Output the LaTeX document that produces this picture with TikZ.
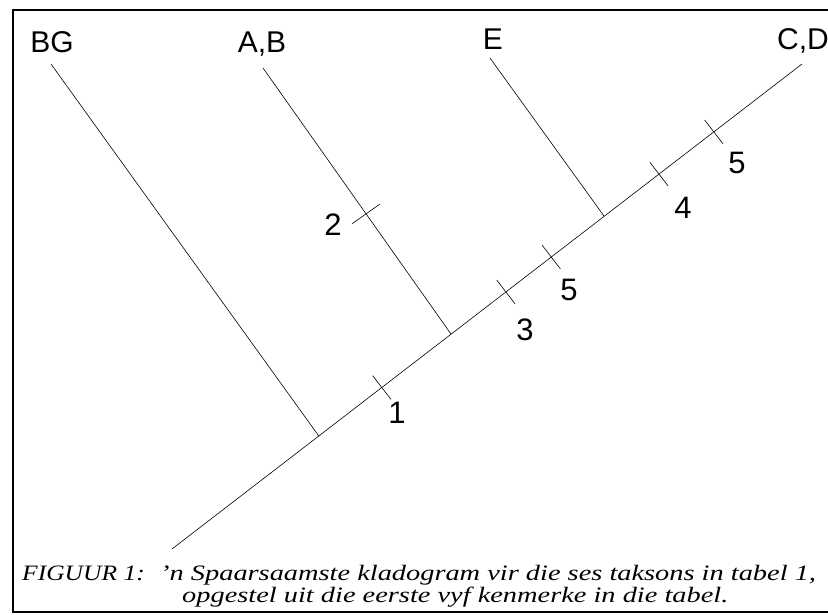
\documentclass[tikz,border=0pt]{standalone}
\usepackage{fontspec}
\setmainfont{Liberation Serif}
\newfontfamily\taxfont{Liberation Sans}
\newfontfamily\capfont[FakeStretch=1.29]{Liberation Serif}
\newfontfamily\figfont[FakeStretch=1.16]{Liberation Serif}
\usetikzlibrary{calc}
\tikzset{
  branch/.style={line width=0.6pt},
  tickmark/.style={line width=0.6pt},
  taxon/.style={font=\taxfont\fontsize{30}{32}\selectfont,inner sep=0pt,anchor=base},
  charnum/.style={font=\taxfont\fontsize{31}{32}\selectfont,inner sep=0pt,anchor=base},
  captext/.style={font=\capfont\itshape\fontsize{22}{22}\selectfont,inner sep=0pt,anchor=base west}
}
\begin{document}
\begin{tikzpicture}[x=1pt,y=-1pt]
\useasboundingbox (0,0) rectangle (828,614);
% frame
\draw[line width=1.4pt] (840,10) -- (13,10) -- (13,612) -- (840,612);
% main stem
\coordinate (root) at (172,549);
\coordinate (tip) at (802,64);
\draw[branch] (root) -- (tip);
% side branches
\coordinate (jBG) at ($(root)!0.233!(tip)$);
\coordinate (jAB) at ($(root)!0.443!(tip)$);
\coordinate (jE) at ($(root)!0.686!(tip)$);
\coordinate (eBG) at (51,64);
\coordinate (eAB) at (263,68);
\coordinate (eE) at (490,58);
\draw[branch] (jBG) -- (eBG);
\draw[branch] (jAB) -- (eAB);
\draw[branch] (jE) -- (eE);
% character ticks on the stem
\foreach \t/\n in {0.333/c1,0.530/c3,0.602/c5a,0.773/c4,0.860/c5b}{
  \coordinate (\n) at ($(root)!\t!(tip)$);
  \draw[tickmark] ($(\n)!15pt!90:(tip)$) -- ($(\n)!15pt!-90:(tip)$);
}
% tick on the A,B branch
\coordinate (c2) at ($(jAB)!0.452!(eAB)$);
\draw[tickmark] ($(c2)!17pt!90:(eAB)$) -- ($(c2)!17pt!-90:(eAB)$);
% taxa
\node[taxon] (tBG) at (52,52) {BG};
\node[taxon] (tAB) at (262,52) {A,B};
\node[taxon] (tE) at (493,49) {E};
\node[taxon,anchor=base east] (tCD) at (829,49) {C,D};
% character numbers
\node[charnum] (n1) at (397,423) {1};
\node[charnum] (n2) at (333,235) {2};
\node[charnum] (n3) at (525,340) {3};
\node[charnum] (n5a) at (569,300) {5};
\node[charnum] (n4) at (683,218) {4};
\node[charnum] (n5b) at (737,173) {5};
% caption
\node[captext,font=\figfont\itshape\fontsize{22}{22}\selectfont] (fig) at (22,580) {FIGUUR 1:};
\node[captext] (cap1) at (160,580) {’n Spaarsaamste kladogram vir die ses taksons in tabel 1,};
\node[captext] (cap2) at (182,602) {opgestel uit die eerste vyf kenmerke in die tabel.};
\end{tikzpicture}
\end{document}
